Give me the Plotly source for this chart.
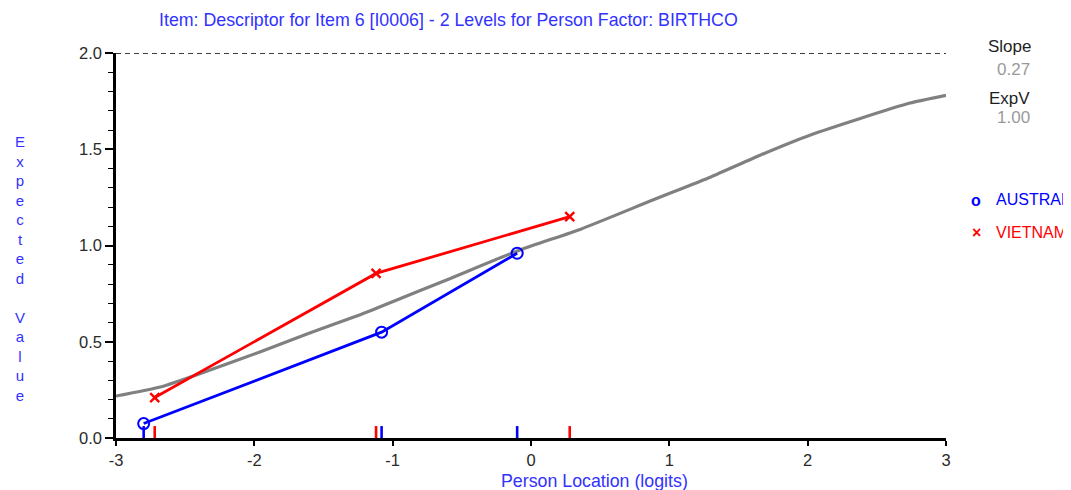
import plotly.graph_objects as go

# ---- data ----
curve_x = [-3.0, -2.68, -2.34, -1.96, -1.60, -1.24, -0.97, -0.61, -0.08, 0.36,
           0.88, 1.30, 1.66, 2.02, 2.38, 2.74, 3.0]
curve_y = [0.218, 0.265, 0.348, 0.447, 0.545, 0.639, 0.717, 0.821, 0.977, 1.085,
           1.236, 1.356, 1.47, 1.574, 1.66, 1.74, 1.78]

groups = ["AUSTRALIA", "VIETNAM"]
aus_x = [-2.80, -1.08, -0.10]
aus_y = [0.075, 0.55, 0.96]
vie_x = [-2.72, -1.12, 0.28]
vie_y = [0.21, 0.855, 1.15]

slope_val = "0.27"
expv_val = "1.00"
x_ticks = [-3, -2, -1, 0, 1, 2, 3]
y_ticks = [0.0, 0.5, 1.0, 1.5, 2.0]
y_tick_text = ["0.0", "0.5", "1.0", "1.5", "2.0"]

BLUE = "#0000ff"
RED = "#ff0000"
GRAY = "#808080"
TEXT_BLUE = "#3232ff"
FONT = "Liberation Sans, Arial, sans-serif"

# The page body has an 8px margin, so the figure is drawn 8px smaller and
# every placement below is given in window pixels of the reference.
OFF = 8
W, H = 1071 - OFF, 490 - OFF
PL, PR, PT, PB = 116, 946, 53, 438  # plot area in window pixels

fig = go.Figure()

fig.add_trace(go.Scatter(x=curve_x, y=curve_y, mode="lines",
                         line=dict(color=GRAY, width=3.2, shape="spline", smoothing=0.5),
                         showlegend=False, hoverinfo="skip"))

rug_h = 0.062
for xs, col in [(aus_x, BLUE), (vie_x, RED)]:
    rx, ry = [], []
    for v in xs:
        rx += [v, v, None]
        ry += [0, rug_h, None]
    fig.add_trace(go.Scatter(x=rx, y=ry, mode="lines",
                             line=dict(color=col, width=2.6),
                             showlegend=False, hoverinfo="skip"))

fig.add_trace(go.Scatter(x=aus_x, y=aus_y, mode="lines+markers", name=groups[0],
                         line=dict(color=BLUE, width=2.8),
                         marker=dict(symbol="circle-open", size=11, color=BLUE,
                                     line=dict(width=2, color=BLUE)),
                         showlegend=False))
fig.add_trace(go.Scatter(x=vie_x, y=vie_y, mode="lines+markers", name=groups[1],
                         line=dict(color=RED, width=2.8),
                         marker=dict(symbol="x-thin", size=9, color=RED,
                                     line=dict(width=2.4, color=RED)),
                         showlegend=False))

fig.add_shape(type="line", xref="paper", yref="y", x0=0, x1=1, y0=2.0, y1=2.0,
              line=dict(color="black", width=1.4, dash="5px,4px"))


def px(xp, yp, **kw):
    d = dict(xref="paper", yref="paper", x=(xp - PL) / (PR - PL),
             y=(PB - yp) / (PB - PT), showarrow=False, yanchor="middle")
    d.update(kw)
    return d


ann = [
    px(448, 20, text="Item: Descriptor for Item 6 [I0006] - 2 Levels for Person Factor: BIRTHCO",
       xanchor="center", font=dict(family=FONT, size=17.8, color=TEXT_BLUE)),
    px(20, 268, text="<br>".join(list("Expected Value")),
       xanchor="center", font=dict(family=FONT, size=15, color=TEXT_BLUE)),
    px(594, 481, text="Person Location (logits)",
       xanchor="center", font=dict(family=FONT, size=17.8, color=TEXT_BLUE)),
    px(1033, 46, text="Slope", xanchor="right", font=dict(family=FONT, size=17, color="#1e1e1e")),
    px(1032, 69, text=slope_val, xanchor="right", font=dict(family=FONT, size=17, color="#9a9a9a")),
    px(1032, 98, text="ExpV", xanchor="right", font=dict(family=FONT, size=17, color="#1e1e1e")),
    px(1032, 118, text=expv_val, xanchor="right", font=dict(family=FONT, size=17, color="#9a9a9a")),
    px(976, 200, text="<b>o</b>", xanchor="center", font=dict(family=FONT, size=16, color=BLUE)),
    px(994, 199, text=groups[0], xanchor="left", font=dict(family=FONT, size=16, color=BLUE)),
    px(976, 232, text="<b>×</b>", xanchor="center", font=dict(family=FONT, size=16, color=RED)),
    px(994, 232, text=groups[1], xanchor="left", font=dict(family=FONT, size=16, color=RED)),
]

fig.update_layout(
    width=W, height=H,
    margin=dict(l=PL - OFF, r=W - (PR - OFF), t=PT - OFF, b=H - (PB - OFF), autoexpand=False),
    paper_bgcolor="white", plot_bgcolor="white",
    annotations=ann,
    font=dict(family=FONT, size=16, color="#2a2a2a"),
)
fig.update_xaxes(range=[-3, 3], tickvals=x_ticks, ticktext=[str(v) for v in x_ticks],
                 showgrid=False, zeroline=False, showline=True, linecolor="black",
                 linewidth=2.6, ticks="outside", ticklen=5, tickwidth=1.5,
                 tickcolor="black", tickfont=dict(size=16.5, color="#2a2a2a"))
fig.update_yaxes(range=[0, 2.0], tickvals=y_ticks, ticktext=y_tick_text,
                 showgrid=False, zeroline=False, showline=True, linecolor="black",
                 linewidth=2.6, ticks="outside", ticklen=8, tickwidth=1.5,
                 tickcolor="black", tickfont=dict(size=16.5, color="#2a2a2a"),
                 minor=dict(dtick=0.1, ticks="outside", ticklen=5, tickwidth=1.2,
                            tickcolor="black", showgrid=False))

fig.write_html("out.html")
